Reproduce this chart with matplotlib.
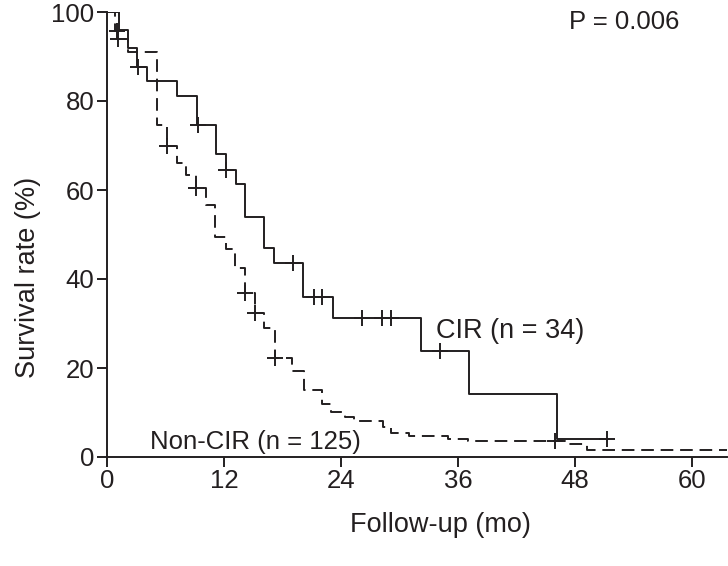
import numpy as np
import matplotlib
matplotlib.use("Agg")
import matplotlib.pyplot as plt

plt.rcParams['font.family'] = ['Liberation Sans', 'DejaVu Sans']

# ---- data (months, survival %) ----
cir_time = [0, 1.27, 2.13, 3.09, 4.15, 7.19, 9.25, 11.19, 12.2, 13.2, 14.2, 16.1, 17.15, 20.1, 23.2, 32.2, 37.1, 46.2]
cir_surv = [100, 95.9, 91.9, 87.7, 84.5, 81.1, 74.5, 68.1, 64.6, 61.3, 54.0, 47.0, 43.5, 35.9, 31.3, 23.9, 14.1, 4.1]
cir_end = 51.5
cir_censor = [3.2, 9.3, 12.25, 19.1, 21.2, 22.1, 26.2, 28.2, 29.1, 34.2, 51.3]

non_time = [0, 0.8, 1.1, 2.2, 5.1, 6.15, 7.2, 8.15, 9.1, 10.2, 11.05, 12.2, 13.1, 14.15, 15.15, 16.1, 17.2,
            19.0, 20.2, 22.1, 23.0, 24.4, 25.3, 28.3, 29.1, 31.0, 35.0, 37.0, 47.0, 49.2]
non_surv = [100, 95.7, 93.9, 90.9, 74.6, 70.0, 66.0, 63.4, 60.5, 56.6, 49.4, 46.7, 42.4, 36.8, 32.4, 29.0, 22.3,
            19.3, 15.0, 12.0, 10.2, 9.0, 8.0, 6.7, 5.5, 4.7, 4.0, 3.7, 3.0, 1.5]
non_end = 63.6
non_censor = [1.0, 1.15, 6.2, 9.15, 14.2, 15.2, 17.25, 46.0]

x_ticks = [0, 12, 24, 36, 48, 60]
y_ticks = [0, 20, 40, 60, 80, 100]

col = '#231f20'

def surv_at(times, survs, tq):
    idx = np.searchsorted(np.asarray(times), tq, side='right') - 1
    return np.asarray(survs)[idx]

fig = plt.figure(figsize=(7.28, 5.66), dpi=100)
ax = fig.add_axes([107/728, 1-457/566, 620/728, (457-12)/566])

# CIR solid
ax.step(cir_time + [cir_end], cir_surv + [cir_surv[-1]], where='post', color=col, lw=1.4)
ax.plot(cir_censor, surv_at(cir_time, cir_surv, cir_censor), ls='none', marker='+', ms=11, mew=1.4, color=col)

# Non-CIR dashed
ln, = ax.step(non_time + [non_end], non_surv + [non_surv[-1]], where='post', color=col, lw=1.4)
ln.set_dashes((6.5, 3.5))
ax.plot(non_censor, surv_at(non_time, non_surv, non_censor), ls='none', marker='+', ms=11, mew=1.4, color=col)

ax.set_xlim(0, 63.6)
ax.set_ylim(0, 100)
ax.set_xticks(x_ticks)
ax.set_yticks(y_ticks)
for s in ['top', 'right']:
    ax.spines[s].set_visible(False)
for s in ['left', 'bottom']:
    ax.spines[s].set_linewidth(1.4)
    ax.spines[s].set_color(col)
ax.tick_params(direction='out', length=7, width=1.4, color=col, labelsize=18.5, labelcolor=col, pad=2)
ax.set_xlabel('Follow-up (mo)', fontsize=19.5, color=col)
ax.set_ylabel('Survival rate (%)', fontsize=19.5, color=col)
ax.xaxis.set_label_coords((440-107)/620, -(512-457)/445)
ax.yaxis.set_label_coords(-(107-41)/620, (457-277)/445)

ax.text(53.1, 97.8, 'P = 0.006', fontsize=18.5, color=col, ha='center', va='center')
ax.text(33.8, 28.3, 'CIR (n = 34)', fontsize=19.5, color=col, ha='left', va='center')
ax.text(4.4, 3.3, 'Non-CIR (n = 125)', fontsize=18.5, color=col, ha='left', va='center')

fig.savefig('out.png', dpi=100)
